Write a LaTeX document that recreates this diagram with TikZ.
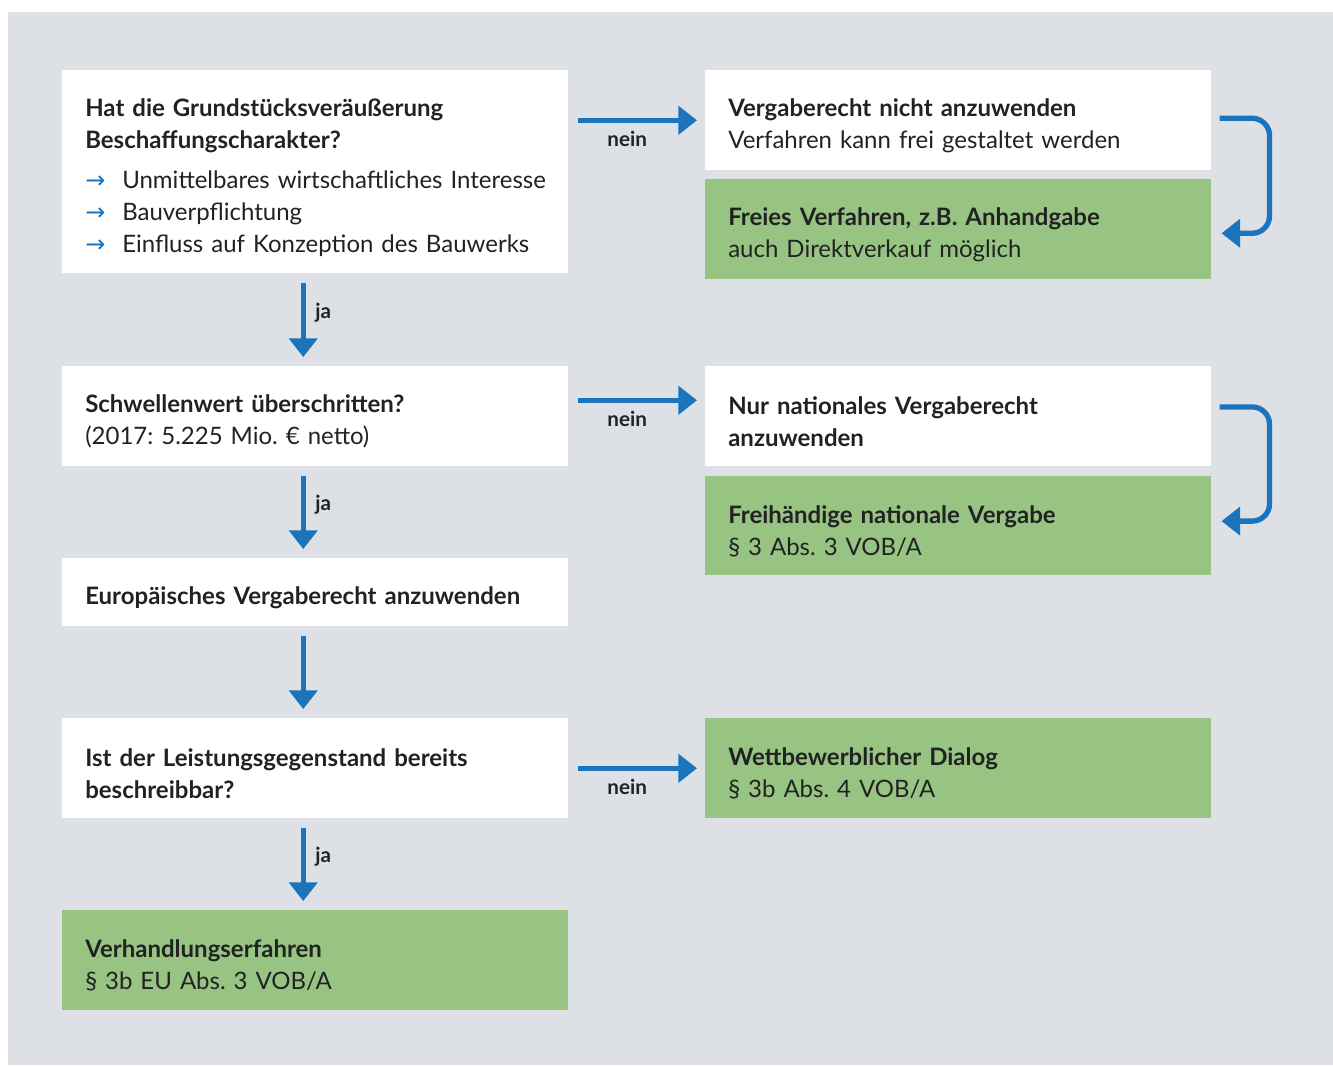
\documentclass[tikz,border=0pt]{standalone}
\usepackage{fontspec}
\setmainfont{Lato}
\newfontfamily\symfont{DejaVu Sans}
\usetikzlibrary{arrows.meta}
\definecolor{bgc}{HTML}{DDE1E5}
\definecolor{grn}{HTML}{97C483}
\definecolor{blu}{HTML}{1C75BC}
\definecolor{txt}{HTML}{222222}
\frenchspacing
\newcommand\fs{\fontsize{18}{24}\selectfont\frenchspacing}
\newcommand\bul[1]{\mbox{\makebox[27.75pt][l]{\raisebox{0pt}{\symfont\color{blu}\fontsize{18}{18}\selectfont →}}#1}}
\begin{document}
\begin{tikzpicture}[x=0.75pt,y=-0.75pt,
 box/.style={anchor=north west, fill=white, minimum width=379.5pt, text width=345pt, inner xsep=17.25pt, inner ysep=0pt, align=left, font=\fs, text=txt, execute at begin node={\rule{0pt}{21.5pt}}},
 gbox/.style={box, fill=grn},
 flow/.style={draw=blu, line width=4pt, -{Triangle[length=14pt,width=21pt]}},
 lbl/.style={font=\fontsize{15.5}{16}\selectfont\bfseries, text=txt, inner sep=0pt}
]
\useasboundingbox (0,0) rectangle (1333,1065);
\fill[bgc] (8,12) rectangle (1333,1065);

% left column
\node[box, minimum height=152.25pt] (b1) at (62,70) {\textbf{Hat die Grundstücksveräußerung}\\\textbf{Beschaffungscharakter?}\\[6pt]
\bul{Unmittelbares wirtschaftliches Interesse}\\
\bul{Bauverpflichtung}\\
\bul{Einfluss auf Konzeption des Bauwerks}};
\node[box, minimum height=75pt] (b2) at (62,366) {\textbf{Schwellenwert überschritten?}\\(2017: 5.225 Mio. € netto)};
\node[box, minimum height=51pt] (b3) at (62,558) {\textbf{Europäisches Vergaberecht anzuwenden}};
\node[box, minimum height=75pt] (b4) at (62,718) {\textbf{Ist der Leistungsgegenstand bereits}\\\textbf{beschreibbar?}};
\node[gbox, minimum height=75pt] (b5) at (62,910) {\textbf{Verhandlungserfahren}\\§ 3b EU Abs. 3 VOB/A};

% right column
\node[box, minimum height=75pt] (r1) at (705,70) {\textbf{Vergaberecht nicht anzuwenden}\\Verfahren kann frei gestaltet werden};
\node[gbox, minimum height=75pt] (g1) at (705,179) {\textbf{Freies Verfahren, z.B. Anhandgabe}\\auch Direktverkauf möglich};
\node[box, minimum height=75pt] (r2) at (705,366) {\textbf{Nur nationales Vergaberecht}\\\textbf{anzuwenden}};
\node[gbox, minimum height=74.25pt] (g2) at (705,476) {\textbf{Freihändige nationale Vergabe}\\§ 3 Abs. 3 VOB/A};
\node[gbox, minimum height=75pt] (g3) at (705,718) {\textbf{Wettbewerblicher Dialog}\\§ 3b Abs. 4 VOB/A};

% horizontal "nein" arrows
\draw[flow] ([xshift=6.75pt]b1.east |- r1.west) -- node[lbl, below=6pt, xshift=-7.5pt] {nein} ([xshift=-6pt]r1.west);
\draw[flow] ([xshift=6.75pt,yshift=12pt]b2.east) -- node[lbl, below=6pt, xshift=-7.5pt] {nein} ([xshift=-6pt,yshift=12pt]r2.west);
\draw[flow] ([xshift=6.75pt]b4.east) -- node[lbl, below=6pt, xshift=-7.5pt] {nein} ([xshift=-6pt]g3.west);

% vertical arrows
\draw[flow] ([xshift=-9pt,yshift=-6.75pt]b1.south) -- node[lbl, right=7pt, pos=0.4] {ja} ([xshift=-9pt,yshift=6.75pt]b2.north);
\draw[flow] ([xshift=-9pt,yshift=-6.75pt]b2.south) -- node[lbl, right=7pt, pos=0.4] {ja} ([xshift=-9pt,yshift=6.75pt]b3.north);
\draw[flow] ([xshift=-9pt,yshift=-6.75pt]b3.south) -- ([xshift=-9pt,yshift=6.75pt]b4.north);
\draw[flow] ([xshift=-9pt,yshift=-6.75pt]b4.south) -- node[lbl, right=7pt, pos=0.4] {ja} ([xshift=-9pt,yshift=6.75pt]b5.north);

% bracket arrows
\draw[flow, rounded corners=13pt] ([xshift=6pt,yshift=1.5pt]r1.east) -- ++(37.5pt,0) |- ([xshift=7.5pt,yshift=-3pt]g1.east);
\draw[flow, rounded corners=13pt] ([xshift=6pt,yshift=7pt]r2.east) -- ++(37.5pt,0) |- ([xshift=7.5pt,yshift=3.5pt]g2.east);
\end{tikzpicture}
\end{document}
